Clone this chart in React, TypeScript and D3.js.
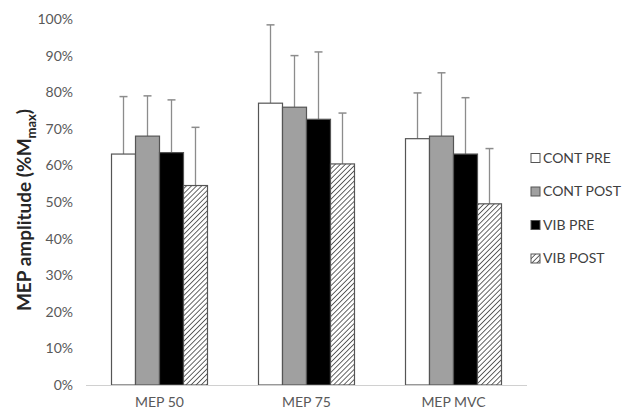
import React from "react";
import * as d3 from "d3";

const categories = ["MEP 50", "MEP 75", "MEP MVC"];
const seriesNames = ["CONT PRE", "CONT POST", "VIB PRE", "VIB POST"];
const contPre = [63.1, 77.0, 67.3];
const contPost = [68.0, 75.9, 68.0];
const vibPre = [63.5, 72.6, 63.1];
const vibPost = [54.5, 60.4, 49.5];
const contPreErr = [78.8, 98.4, 79.8];
const contPostErr = [79.0, 90.0, 85.3];
const vibPreErr = [77.9, 91.0, 78.5];
const vibPostErr = [70.4, 74.3, 64.6];
const yTicks = [0, 10, 20, 30, 40, 50, 60, 70, 80, 90, 100];

const values = [contPre, contPost, vibPre, vibPost];
const errTops = [contPreErr, contPostErr, vibPreErr, vibPostErr];
const fills = ["#ffffff", "#a0a0a0", "#000000", "url(#hatch)"];

export default function App() {
  const W = 626, H = 414;
  const x0 = 86, x1 = 527;
  const y = d3.scaleLinear().domain([0, 100]).range([385, 19]);
  const xb = d3.scaleBand().domain(categories).range([x0, x1]).paddingInner(0.347).paddingOuter(0.1735);
  const xs = d3.scaleBand().domain(seriesNames).range([0, xb.bandwidth()]);
  const font = "Lato, 'Open Sans', sans-serif";
  return (
    <svg width={W} height={H} style={{ position: "absolute", left: 0, top: 0, background: "#fff" }}>
      <defs>
        <pattern id="hatch" patternUnits="userSpaceOnUse" width="3.6" height="3.6" patternTransform="rotate(45)">
          <rect width="3.6" height="3.6" fill="#ffffff" />
          <line x1="0" y1="0" x2="0" y2="3.6" stroke="#555" strokeWidth="1.8" />
        </pattern>
      </defs>
      {yTicks.map((t) => (
        <text key={t} x={73} y={y(t)} dy="0.35em" textAnchor="end" fontFamily={font} fontSize={14} fill="#595959">
          {t}%
        </text>
      ))}
      {categories.map((c, ci) =>
        seriesNames.map((s, si) => {
          const bx = (xb(c) as number) + (xs(s) as number);
          const bw = xs.bandwidth();
          const v = values[si][ci];
          const e = errTops[si][ci];
          const cx = bx + bw / 2;
          return (
            <g key={c + s}>
              <line x1={cx} x2={cx} y1={y(v)} y2={y(e)} stroke="#8c8c8c" strokeWidth={1.3} />
              <line x1={cx - 4} x2={cx + 4} y1={y(e)} y2={y(e)} stroke="#8c8c8c" strokeWidth={1.5} />
              <rect x={bx} y={y(v)} width={bw} height={y(0) - y(v)} fill={fills[si]} stroke="#555" strokeWidth={1.2} />
            </g>
          );
        })
      )}
      <line x1={x0} x2={x1} y1={y(0) + 0.5} y2={y(0) + 0.5} stroke="#d0d0d0" strokeWidth={1} />
      {categories.map((c) => (
        <text key={c} x={(xb(c) as number) + xb.bandwidth() / 2} y={402} dy="0.35em" textAnchor="middle" fontFamily={font} fontSize={14} fill="#595959">
          {c}
        </text>
      ))}
      <text transform={`translate(24,210) rotate(-90)`} textAnchor="middle" dy="0.35em" fontFamily={font} fontSize={19} fontWeight="bold" fill="#262626">
        MEP amplitude (%M<tspan fontSize={13} dy="5">max</tspan><tspan dy="-5">)</tspan>
      </text>
      {seriesNames.map((s, si) => {
        const ly = 158 + si * 33.5;
        return (
          <g key={s}>
            <rect x={531} y={ly - 4.5} width={9} height={9} fill={fills[si]} stroke="#555" strokeWidth={1} />
            <text x={543} y={ly} dy="0.35em" fontFamily={font} fontSize={14} fill="#404040">
              {s}
            </text>
          </g>
        );
      })}
    </svg>
  );
}
